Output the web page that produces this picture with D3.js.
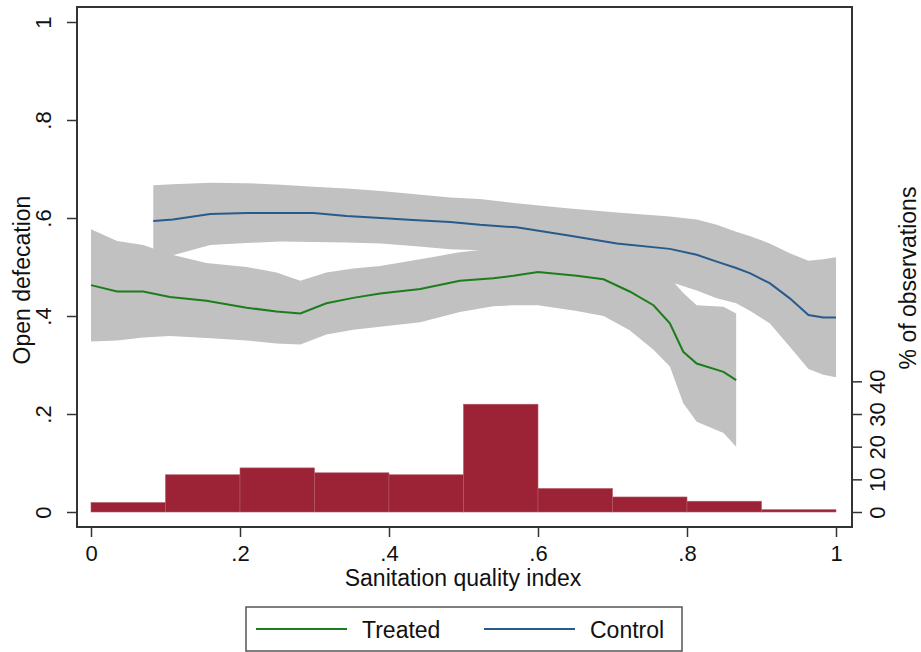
<!DOCTYPE html>
<html><head><meta charset="utf-8">
<script src="https://cdn.jsdelivr.net/npm/d3@7"></script>
<style>body{margin:0;background:#fff}svg{display:block}text{font-family:"Liberation Sans",Arial,Helvetica,sans-serif;fill:#111}</style>
</head><body>
<svg id="c" width="921" height="652"></svg>
<script>
// ---- data ----
const xTicks = [0, 0.2, 0.4, 0.6, 0.8, 1];
const xTickLabels = ["0", ".2", ".4", ".6", ".8", "1"];
const yTicks = [0, 0.2, 0.4, 0.6, 0.8, 1];
const yTickLabels = ["0", ".2", ".4", ".6", ".8", "1"];
const pctTicks = [0, 10, 20, 30, 40];

// histogram (% of observations), bins of width 0.1
const binStarts = [0, 0.1, 0.2, 0.3, 0.4, 0.5, 0.6, 0.7, 0.8, 0.9];
const binPct = [2.9, 11.4, 13.5, 12.0, 11.4, 33.0, 7.2, 4.6, 3.3, 0.7];

// Treated: local polynomial fit with CI
const treatedX  = [0, 0.035, 0.07, 0.106, 0.155, 0.209, 0.249, 0.281, 0.316, 0.352, 0.388, 0.442, 0.495, 0.54, 0.567, 0.60, 0.652, 0.688, 0.723, 0.755, 0.777, 0.795, 0.813, 0.849, 0.866];
const treatedY  = [0.463, 0.450, 0.450, 0.439, 0.431, 0.417, 0.409, 0.405, 0.426, 0.437, 0.446, 0.455, 0.472, 0.477, 0.482, 0.490, 0.482, 0.475, 0.450, 0.422, 0.385, 0.327, 0.303, 0.286, 0.269];
const treatedHi = [0.577, 0.553, 0.545, 0.526, 0.508, 0.500, 0.489, 0.472, 0.489, 0.497, 0.502, 0.516, 0.530, 0.538, 0.543, 0.550, 0.543, 0.535, 0.520, 0.500, 0.478, 0.447, 0.422, 0.419, 0.405];
const treatedLo = [0.348, 0.350, 0.356, 0.359, 0.355, 0.350, 0.344, 0.342, 0.362, 0.372, 0.378, 0.387, 0.408, 0.420, 0.422, 0.422, 0.410, 0.400, 0.371, 0.331, 0.297, 0.222, 0.184, 0.161, 0.133];

// Control
const controlX  = [0.0836, 0.11, 0.16, 0.209, 0.255, 0.299, 0.343, 0.389, 0.432, 0.482, 0.522, 0.571, 0.639, 0.706, 0.777, 0.813, 0.840, 0.866, 0.885, 0.911, 0.938, 0.963, 0.983, 1.0];
const controlY  = [0.594, 0.597, 0.608, 0.610, 0.610, 0.610, 0.604, 0.600, 0.596, 0.592, 0.586, 0.581, 0.565, 0.548, 0.537, 0.525, 0.511, 0.498, 0.487, 0.467, 0.436, 0.402, 0.397, 0.397];
const controlHi = [0.667, 0.669, 0.672, 0.671, 0.668, 0.664, 0.660, 0.655, 0.649, 0.642, 0.639, 0.630, 0.620, 0.611, 0.603, 0.597, 0.586, 0.572, 0.563, 0.548, 0.528, 0.513, 0.516, 0.520];
const controlLo = [0.512, 0.524, 0.545, 0.549, 0.552, 0.551, 0.550, 0.548, 0.543, 0.536, 0.534, 0.530, 0.520, 0.500, 0.470, 0.452, 0.436, 0.426, 0.410, 0.385, 0.337, 0.292, 0.280, 0.275];

const seriesNames = ["Treated", "Control"];
const seriesColors = ["#1c7d1c", "#275b8c"];

// ---- scales ----
const svg = d3.select("#c");
const frame = {l: 77, t: 7, r: 852, b: 527};
const x = d3.scaleLinear().domain([0, 1]).range([91, 836]);
const y = d3.scaleLinear().domain([0, 1]).range([512, 22]);
const yPct = d3.scaleLinear().domain([0, 150]).range([512, 22]);

const band = "#c1c1c1";
const area = d3.area().x(d => x(d.x)).y0(d => y(d.lo)).y1(d => y(d.hi));
const line = d3.line().x(d => x(d.x)).y(d => y(d.y));
const zipS = (X, Y, H, L) => X.map((v, i) => ({x: v, y: Y[i], hi: H[i], lo: L[i]}));
const treated = zipS(treatedX, treatedY, treatedHi, treatedLo);
const control = zipS(controlX, controlY, controlHi, controlLo);

// CI bands
svg.append("path").datum(treated).attr("d", area).attr("fill", band);
svg.append("path").datum(control).attr("d", area).attr("fill", band);

// histogram
svg.append("g").selectAll("rect").data(binStarts).join("rect")
  .attr("x", d => x(d)).attr("width", d => x(d + 0.1) - x(d))
  .attr("y", (d, i) => yPct(binPct[i])).attr("height", (d, i) => yPct(0) - yPct(binPct[i]))
  .attr("fill", "#9b2335").attr("stroke", "#b35a68").attr("stroke-width", 0.6);

// lines
svg.append("path").datum(treated).attr("d", line).attr("fill", "none").attr("stroke", seriesColors[0]).attr("stroke-width", 2);
svg.append("path").datum(control).attr("d", line).attr("fill", "none").attr("stroke", seriesColors[1]).attr("stroke-width", 2);

// frame
svg.append("rect").attr("x", frame.l).attr("y", frame.t).attr("width", frame.r - frame.l).attr("height", frame.b - frame.t)
  .attr("fill", "none").attr("stroke", "#333").attr("stroke-width", 2);

// axes
const fs = 22;
const xAxis = d3.axisBottom(x).tickValues(xTicks).tickFormat((d, i) => xTickLabels[i]).tickSize(10).tickPadding(8);
const gx = svg.append("g").attr("transform", `translate(0,${frame.b})`).call(xAxis);
gx.select(".domain").remove();
gx.selectAll("line").attr("stroke", "#333").attr("stroke-width", 1.5);
gx.selectAll("text").attr("font-size", fs).attr("fill", "#111");

const yAxis = d3.axisLeft(y).tickValues(yTicks).tickFormat((d, i) => yTickLabels[i]).tickSize(10).tickPadding(0);
const gy = svg.append("g").attr("transform", `translate(${frame.l},0)`).call(yAxis);
gy.select(".domain").remove();
gy.selectAll("line").attr("stroke", "#333").attr("stroke-width", 1.5);
gy.selectAll("text").attr("font-size", fs).attr("fill", "#111")
  .attr("x", null).attr("dy", null).attr("text-anchor", "middle")
  .attr("transform", "translate(-26,0) rotate(-90)");

const yAxisR = d3.axisRight(yPct).tickValues(pctTicks).tickSize(10).tickPadding(0);
const gr = svg.append("g").attr("transform", `translate(${frame.r},0)`).call(yAxisR);
gr.select(".domain").remove();
gr.selectAll("line").attr("stroke", "#333").attr("stroke-width", 1.5);
gr.selectAll("text").attr("font-size", fs).attr("fill", "#111")
  .attr("x", null).attr("dy", null).attr("text-anchor", "middle")
  .attr("transform", "translate(33,0) rotate(-90)");

// titles
svg.append("text").attr("x", 463).attr("y", 586).attr("text-anchor", "middle").attr("font-size", 23).text("Sanitation quality index");
svg.append("text").attr("transform", "translate(30,280) rotate(-90)").attr("text-anchor", "middle").attr("font-size", 23).text("Open defecation");
svg.append("text").attr("transform", "translate(916,278) rotate(-90)").attr("text-anchor", "middle").attr("font-size", 23).text("% of observations");

// legend
const lg = svg.append("g");
lg.append("rect").attr("x", 246).attr("y", 607).attr("width", 436).attr("height", 44).attr("fill", "#fff").attr("stroke", "#555").attr("stroke-width", 1.5);
const legX = [256, 484];
seriesNames.forEach((n, i) => {
  lg.append("line").attr("x1", legX[i]).attr("x2", legX[i] + 91).attr("y1", 629).attr("y2", 629).attr("stroke", seriesColors[i]).attr("stroke-width", 2);
  lg.append("text").attr("x", legX[i] + 106).attr("y", 638).attr("font-size", 23).text(n);
});
</script>
</body></html>
